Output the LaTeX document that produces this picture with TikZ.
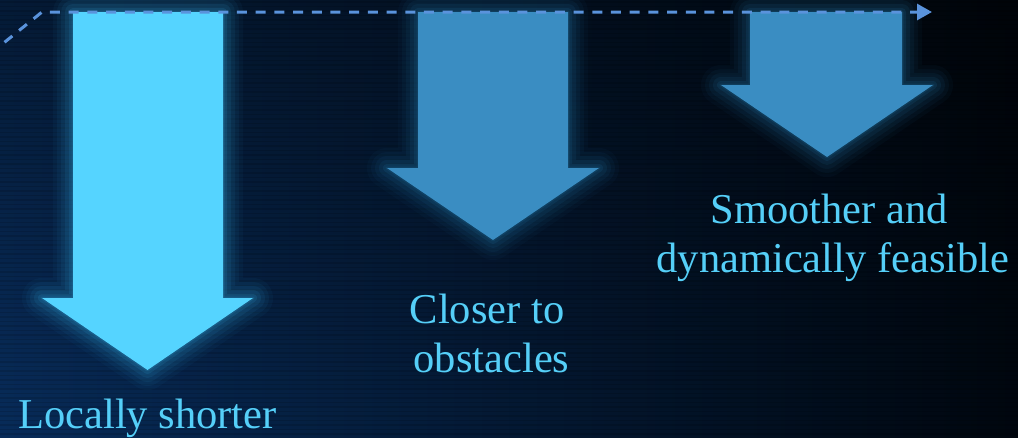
\documentclass[tikz,border=0pt]{standalone}
\usepackage{fontspec}
\setmainfont{Liberation Serif}
\newfontfamily\lblfont{Liberation Serif}
\usetikzlibrary{arrows.meta,fadings}
\definecolor{bgleft}{HTML}{082C5A}
\definecolor{bgright}{HTML}{01070F}
\definecolor{arrowA}{HTML}{55D4FF}
\definecolor{arrowB}{HTML}{3A8DC2}
\definecolor{glowA}{HTML}{2C95C8}
\definecolor{glowB}{HTML}{1F6C9A}
\definecolor{lbltext}{HTML}{55CFF8}
\definecolor{dashcol}{HTML}{5A93DC}
\tikzset{
  lbl/.style={text=lbltext, inner sep=0pt, font=\lblfont\fontsize{42.5}{49.5}\selectfont},
  dashline/.style={dashcol, line width=3pt, dash pattern=on 10pt off 8.7pt,
    -{Triangle[length=15pt,width=16pt]}}
}
% #1 shaft left, #2 shaft right, #3 top, #4 head base, #5 head left, #6 head right, #7 tip y, #8 fill, #9 glow
\newcommand{\glowarrow}[9]{%
  \foreach \w/\o in {40/0.05,32/0.07,24/0.09,16/0.12,8/0.16,3/0.2}{%
    \draw[#9, line width=\w pt, draw opacity=\o, line join=round]
      (#1,#3) -- (#2,#3) -- (#2,#4) -- (#6,#4) -- ({(#5+#6)/2},#7) -- (#5,#4) -- (#1,#4) -- cycle;
  }
  \fill[#8] (#1,#3) -- (#2,#3) -- (#2,#4) -- (#6,#4) -- ({(#5+#6)/2},#7) -- (#5,#4) -- (#1,#4) -- cycle;
}
\begin{document}
\begin{tikzpicture}[x=1pt,y=-1pt]
\useasboundingbox (0,0) rectangle (1018,437);
% background
\shade[left color=bgleft, right color=bgright] (0,0) rectangle (1018,437);
\fill[black, path fading=south, fill opacity=0.4] (0,0) rectangle (1018,437);
\foreach \y in {2,6.5,...,437} \draw[black, opacity=0.12, line width=1.2pt] (0,\y) -- (1018,\y);
% arrows
\glowarrow{73}{223}{12}{298}{42}{253}{370}{arrowA}{glowA}
\glowarrow{418}{568}{12}{168}{387}{599}{240}{arrowB}{glowB}
\glowarrow{750}{902}{12}{85}{721}{933}{157}{arrowB}{glowB}
% dashed connector
\coordinate (d0) at (-10,54);
\coordinate (d1) at (42,12);
\coordinate (d2) at (932,12);
\draw[dashline] (d0) -- (d1) -- (d2);
% labels
\node[lbl, anchor=base] (t1) at (147.5,428) {Locally shorter};
\node[lbl, anchor=base] (t2a) at (487,323) {Closer to};
\node[lbl, anchor=base] (t2b) at (491.5,372) {obstacles};
\node[lbl, anchor=base] (t3a) at (829,223) {Smoother and};
\node[lbl, anchor=base] (t3b) at (833,272) {dynamically feasible};
\end{tikzpicture}
\end{document}
